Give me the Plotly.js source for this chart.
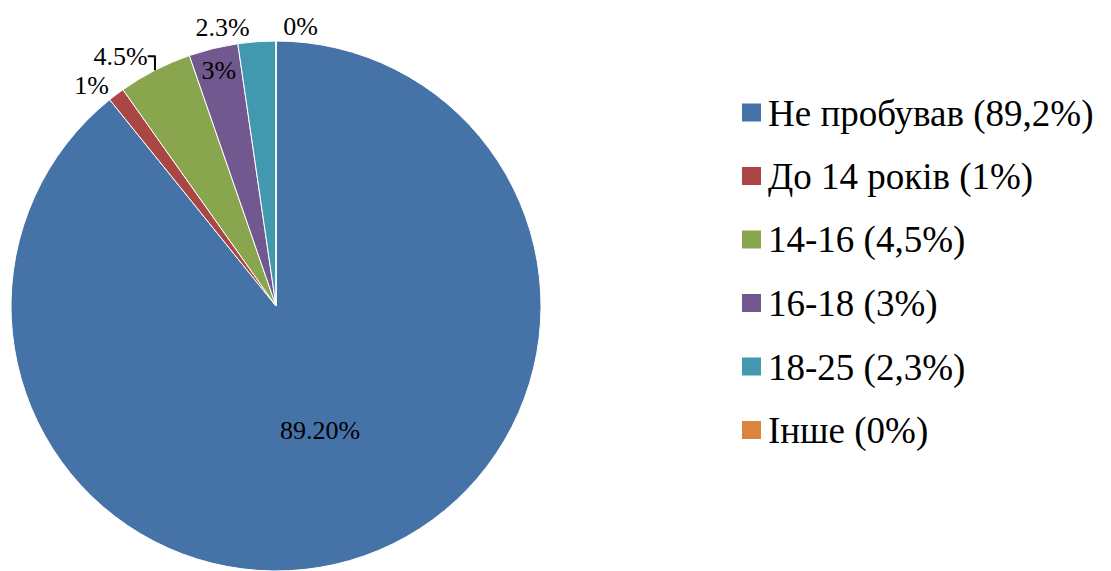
<!DOCTYPE html>
<html>
<head>
<meta charset="utf-8">
<script src="https://cdn.plot.ly/plotly-3.0.1.min.js"></script>
<style>
html,body{margin:0;padding:0;background:#fff;}
#chart{width:1111px;height:571px;}
</style>
</head>
<body>
<div id="chart"></div>
<script>
const categories = ["Не пробував (89,2%)", "До 14 років (1%)", "14-16 (4,5%)", "16-18 (3%)", "18-25 (2,3%)", "Інше (0%)"];
const values = [89.2, 1, 4.5, 3, 2.3, 0];
const sliceLabels = ["89.20%", "1%", "4.5%", "3%", "2.3%", "0%"];
const colors = ["#4572A7", "#AA4643", "#89A54E", "#71588F", "#4198AF", "#DB843D"];

const W = 1111, H = 571;
const fontFam = "Liberation Serif";

const trace = {
  type: "pie",
  labels: categories,
  values: values,
  text: sliceLabels,
  textinfo: "text",
  sort: false,
  direction: "clockwise",
  rotation: 0,
  marker: { colors: colors, line: { color: "#ffffff", width: 1 } },
  textposition: ["inside", "outside", "outside", "inside", "outside", "outside"],
  insidetextorientation: "horizontal",
  textfont: { family: fontFam, size: 26, color: "#000" },
  domain: { x: [11 / W, 541 / W], y: [0, 1 - 41 / H] },
  showlegend: false,
  hoverinfo: "label+value"
};

const legendTop = 112.5, legendStep = 63.5;
const annotations = [];
const shapes = [];
categories.forEach((c, i) => {
  const yc = legendTop + i * legendStep;
  annotations.push({
    xref: "paper", yref: "paper",
    x: 766 / W, y: 1 - (yc + 1) / H,
    xanchor: "left", yanchor: "middle",
    text: c, showarrow: false,
    font: { family: fontFam, size: 37, color: "#000" }
  });
  shapes.push({
    type: "rect", xref: "paper", yref: "paper",
    x0: 742 / W, x1: 761 / W,
    y0: 1 - (yc + 9) / H, y1: 1 - (yc - 9) / H,
    fillcolor: colors[i], line: { width: 0 }
  });
});

const layout = {
  width: W, height: H,
  margin: { l: 0, r: 0, t: 0, b: 0 },
  paper_bgcolor: "#ffffff",
  showlegend: false,
  annotations: annotations,
  shapes: shapes,
  font: { family: fontFam, color: "#000" }
};

Plotly.newPlot("chart", [trace], layout, { displayModeBar: false });
</script>
</body>
</html>
